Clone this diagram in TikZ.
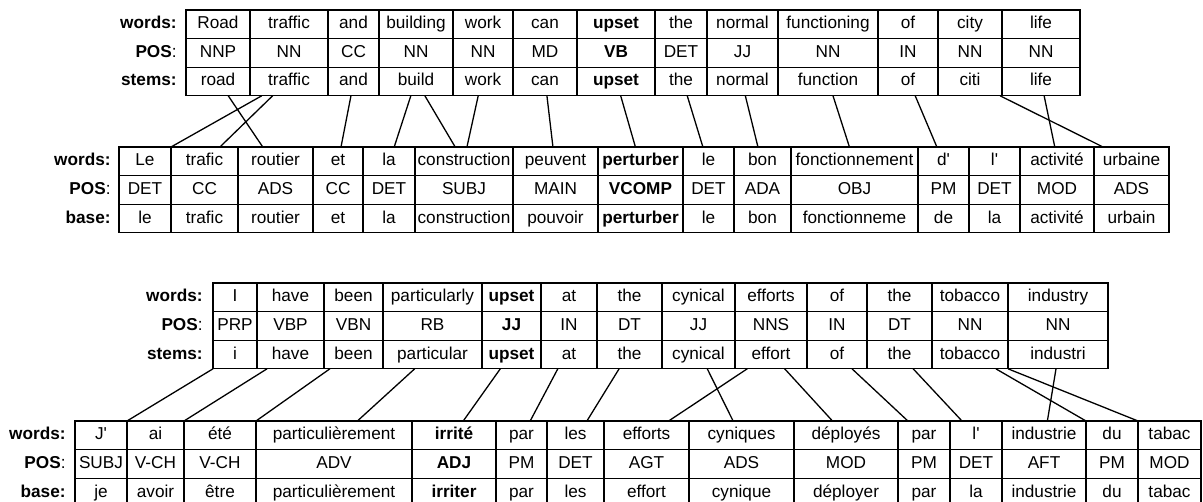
\documentclass[tikz,border=0pt]{standalone}
\usepackage{fontspec}
\setmainfont{Liberation Sans}
\usetikzlibrary{positioning, calc}

\tikzset{
  cell/.style={draw, line width=0.65pt, inner sep=0pt, outer sep=0pt,
    minimum height=14.3pt, text height=6.3pt, text depth=1.8pt,
    font=\fontsize{8.6}{10}\selectfont},
  cellw/.style={cell, minimum width={(#1)*0.5pt}},
  rowlabel/.style={inner sep=0pt, text height=6.3pt, text depth=1.8pt,
    font=\fontsize{8.6}{10}\selectfont\bfseries},
  link/.style={line width=0.65pt}
}
\newcommand{\apos}{\textquotesingle}

\begin{document}
\begin{tikzpicture}[x=0.5pt, y=-0.5pt]
\useasboundingbox (0,0) rectangle (1203,502);

% English, first sentence
\foreach \a/\b/\w/\p/\s [count=\i] in {186/250/Road/NNP/road, 250/328/traffic/NN/traffic,
    328/379/and/CC/and, 379/453/building/NN/build, 453/513/work/NN/work, 513/577/can/MD/can,
    577/655/\textbf{upset}/\textbf{VB}/\textbf{upset}, 655/707/the/DET/the,
    707/778/normal/JJ/normal, 778/878/functioning/NN/function, 878/938/of/IN/of,
    938/1002/city/NN/citi, 1002/1080/life/NN/life}{
  \node[cellw=\b-\a] (e1w-\i) at ({(\a+\b)/2},24.3) {\w};
  \node[cellw=\b-\a] (e1p-\i) at ({(\a+\b)/2},52.9) {\p};
  \node[cellw=\b-\a] (e1s-\i) at ({(\a+\b)/2},81.5) {\s};
}
\node[rowlabel, left=4.5pt of e1w-1] (e1wl) {words:};
\node[rowlabel, left=4.5pt of e1p-1] (e1pl) {POS\textmd{:}};
\node[rowlabel, left=4.5pt of e1s-1] (e1sl) {stems:};

% French, first sentence
\foreach \a/\b/\w/\p/\s [count=\i] in {119/171/Le/DET/le, 171/238/trafic/CC/trafic,
    238/313/routier/ADS/routier, 313/363/et/CC/et, 363/415/la/DET/la,
    415/513/construction/SUBJ/construction, 513/598/peuvent/MAIN/pouvoir,
    598/683/\textbf{perturber}/\textbf{VCOMP}/\textbf{perturber}, 683/734/le/DET/le,
    734/791/bon/ADA/bon, 791/918/fonctionnement/OBJ/fonctionneme, 918/969/d\apos/PM/de,
    969/1020/l\apos/DET/la, 1020/1094/activité/MOD/activité, 1094/1169/urbaine/ADS/urbain}{
  \node[cellw=\b-\a] (f1w-\i) at ({(\a+\b)/2},161.3) {\w};
  \node[cellw=\b-\a] (f1p-\i) at ({(\a+\b)/2},189.9) {\p};
  \node[cellw=\b-\a] (f1b-\i) at ({(\a+\b)/2},218.5) {\s};
}
\node[rowlabel, left=4pt of f1w-1] (f1wl) {words:};
\node[rowlabel, left=4pt of f1p-1] (f1pl) {POS\textmd{:}};
\node[rowlabel, left=4pt of f1b-1] (f1bl) {base:};

% Alignment, first sentence
\foreach \s/\u/\t/\v in {e1s-1/.66/f1w-3/.33, e1s-2/.15/f1w-1/1, e1s-2/.29/f1w-2/.73,
    e1s-3/.45/f1w-4/.56, e1s-4/.43/f1w-5/.6, e1s-4/.62/f1w-6/.41, e1s-5/.42/f1w-6/.53,
    e1s-6/.53/f1w-7/.47, e1s-7/.56/f1w-8/.44, e1s-8/.62/f1w-9/.39, e1s-9/.54/f1w-10/.42,
    e1s-10/.55/f1w-11/.46, e1s-11/.62/f1w-12/.37, e1s-12/.97/f1w-15/.12,
    e1s-13/.54/f1w-14/.47}
  \draw[link] ($(\s.south west)!\u!(\s.south east)$) -- ($(\t.north west)!\v!(\t.north east)$);

% English, second sentence
\foreach \a/\b/\w/\p/\s [count=\i] in {213/257/I/PRP/i, 257/324/have/VBP/have,
    324/383/been/VBN/been, 383/482/particularly/RB/particular,
    482/541/\textbf{upset}/\textbf{JJ}/\textbf{upset}, 541/597/at/IN/at, 597/662/the/DT/the,
    662/735/cynical/JJ/cynical, 735/807/efforts/NNS/effort, 807/867/of/IN/of,
    867/932/the/DT/the, 932/1008/tobacco/NN/tobacco, 1008/1108/industry/NN/industri}{
  \node[cellw=\b-\a] (e2w-\i) at ({(\a+\b)/2},297.3) {\w};
  \node[cellw=\b-\a] (e2p-\i) at ({(\a+\b)/2},325.9) {\p};
  \node[cellw=\b-\a] (e2s-\i) at ({(\a+\b)/2},354.5) {\s};
}
\node[rowlabel, left=5pt of e2w-1] (e2wl) {words:};
\node[rowlabel, left=5pt of e2p-1] (e2pl) {POS\textmd{:}};
\node[rowlabel, left=5pt of e2s-1] (e2sl) {stems:};

% French, second sentence
\foreach \a/\b/\w/\p/\s [count=\i] in {75/127/J\apos/SUBJ/je, 127/184/ai/V-CH/avoir,
    184/256/été/V-CH/être, 256/412/particulièrement/ADV/particulièrement,
    412/496/\textbf{irrité}/\textbf{ADJ}/\textbf{irriter}, 496/547/par/PM/par,
    547/604/les/DET/les, 604/689/efforts/AGT/effort, 689/794/cyniques/ADS/cynique,
    794/898/déployés/MOD/déployer, 898/950/par/PM/par, 950/1002/l\apos/DET/la,
    1002/1086/industrie/AFT/industrie, 1086/1138/du/PM/du, 1138/1201/tabac/MOD/tabac}{
  \node[cellw=\b-\a] (f2w-\i) at ({(\a+\b)/2},435.3) {\w};
  \node[cellw=\b-\a] (f2p-\i) at ({(\a+\b)/2},463.9) {\p};
  \node[cellw=\b-\a] (f2b-\i) at ({(\a+\b)/2},492.5) {\s};
}
\node[rowlabel, left=4.5pt of f2w-1] (f2wl) {words:};
\node[rowlabel, left=4.5pt of f2p-1] (f2pl) {POS\textmd{:}};
\node[rowlabel, left=4.5pt of f2b-1] (f2bl) {base:};

% Alignment, second sentence
\foreach \s/\u/\t/\v in {e2s-1/0/f2w-1/1, e2s-2/.15/f2w-2/1, e2s-3/.1/f2w-3/1,
    e2s-4/.32/f2w-4/.65, e2s-5/.31/f2w-5/.61, e2s-6/.3/f2w-6/.67, e2s-7/.34/f2w-7/.7,
    e2s-8/.62/f2w-9/.42, e2s-9/.17/f2w-8/.76, e2s-9/.69/f2w-10/.37,
    e2s-10/.75/f2w-11/.19, e2s-11/.71/f2w-12/.23, e2s-12/.84/f2w-14/0,
    e2s-12/1/f2w-15/0, e2s-13/.48/f2w-13/.54}
  \draw[link] ($(\s.south west)!\u!(\s.south east)$) -- ($(\t.north west)!\v!(\t.north east)$);
\end{tikzpicture}
\end{document}
